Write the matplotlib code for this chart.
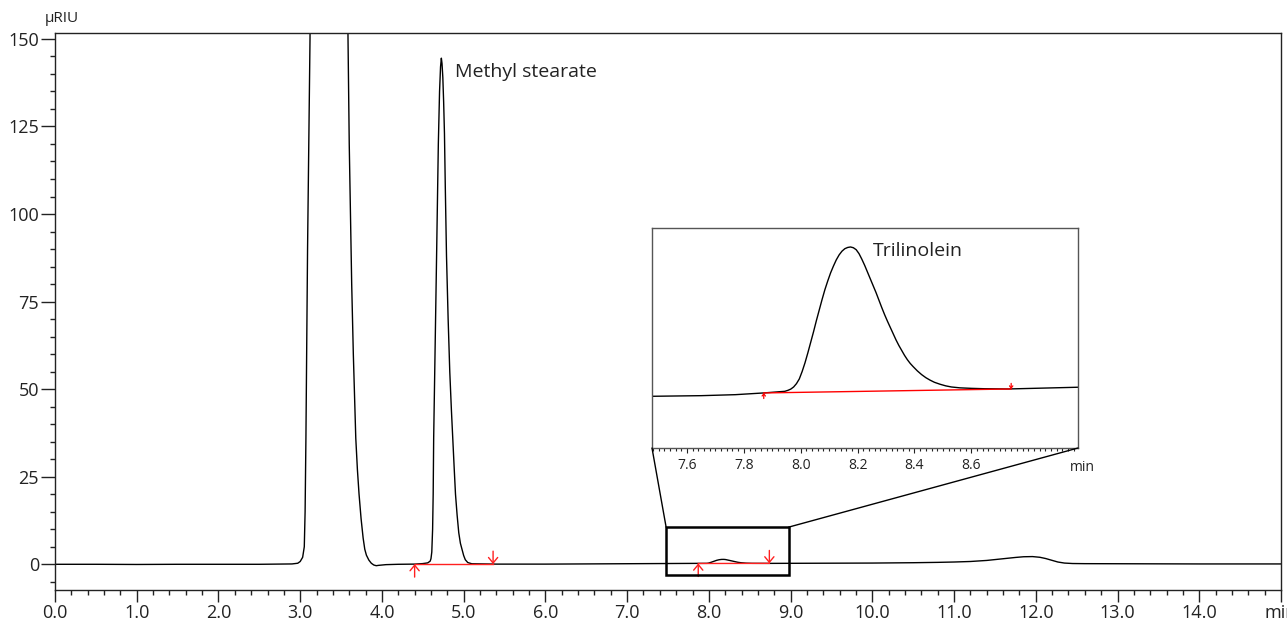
import matplotlib
matplotlib.use("Agg")
import matplotlib.pyplot as plt
from matplotlib.patches import Rectangle, ConnectionPatch
from matplotlib.ticker import MultipleLocator, FixedLocator

plt.rcParams['font.family'] = ['Open Sans', 'DejaVu Sans']

# ---------------- data ----------------
time_min = [0.00, 0.50, 1.00, 1.50, 2.00, 2.50, 2.90, 2.97, 3.00, 3.03, 3.05, 3.06,
            3.07, 3.09, 3.12, 3.15, 3.30, 3.45, 3.55, 3.585, 3.60, 3.615, 3.63, 3.65,
            3.68, 3.70, 3.72, 3.745, 3.77, 3.79, 3.81, 3.84, 3.87, 3.90, 3.93, 3.96,
            4.05, 4.20, 4.40, 4.50, 4.56, 4.59, 4.60, 4.61, 4.62, 4.627, 4.633, 4.65,
            4.67, 4.69, 4.705, 4.717, 4.727, 4.735, 4.745, 4.755, 4.765, 4.775, 4.79,
            4.81, 4.83, 4.85, 4.866, 4.885, 4.90, 4.92, 4.94, 4.96, 4.98, 5.00, 5.02,
            5.05, 5.10, 5.40, 6.00, 6.50, 7.00,
            7.477, 7.65, 7.77, 7.87, 7.944, 7.955, 7.965, 7.975, 7.985, 7.995, 8.005,
            8.015, 8.025, 8.035, 8.045, 8.055, 8.065, 8.075, 8.085, 8.095, 8.105,
            8.115, 8.125, 8.135, 8.145, 8.155, 8.165, 8.175, 8.185, 8.195, 8.205,
            8.215, 8.225, 8.235, 8.245, 8.255, 8.265, 8.275, 8.285, 8.295, 8.305,
            8.315, 8.325, 8.335, 8.345, 8.355, 8.365, 8.375, 8.385, 8.395, 8.41,
            8.425, 8.44, 8.455, 8.47, 8.49, 8.51, 8.53, 8.56, 8.60, 8.645, 8.73, 8.975,
            9.50, 10.00, 10.50, 10.80, 11.00, 11.20, 11.40, 11.60, 11.75, 11.85, 11.96,
            12.05, 12.12, 12.20, 12.27, 12.35, 12.45, 12.60, 13.00, 13.50, 14.00,
            14.50, 15.00]
signal_uriu = [0.0, 0.0, -0.05, 0.0, 0.0, 0.0, 0.1, 0.3, 0.8, 2.0, 5.0, 15,
               36, 90, 150, 260, 600, 600, 260, 150, 120, 100, 80, 60,
               36, 27, 20, 13, 7.5, 4.3, 2.6, 1.2, 0.3, -0.2, -0.4, -0.3,
               -0.1, 0.0, 0.05, 0.2, 0.4, 0.9, 1.6, 3.5, 10, 20, 36, 60,
               90, 120, 135, 142, 144.5, 143, 139, 132, 123, 108, 88,
               70, 55, 44, 36, 27, 20, 14, 9, 6, 4.3, 2.5, 1.3,
               0.5, 0.15, 0.05, 0.05, 0.1, 0.15,
               0.200, 0.205, 0.213, 0.227, 0.240, 0.248, 0.258, 0.275, 0.302, 0.340, 0.400,
               0.470, 0.550, 0.635, 0.720, 0.810, 0.895, 0.980, 1.060, 1.130, 1.195,
               1.250, 1.300, 1.340, 1.370, 1.390, 1.400, 1.404, 1.398, 1.382, 1.350,
               1.305, 1.255, 1.200, 1.145, 1.090, 1.035, 0.975, 0.915, 0.858, 0.805,
               0.755, 0.705, 0.655, 0.610, 0.570, 0.530, 0.495, 0.465, 0.440, 0.405,
               0.375, 0.350, 0.330, 0.313, 0.297, 0.284, 0.275, 0.268, 0.264, 0.261, 0.259, 0.273,
               0.30, 0.35, 0.45, 0.55, 0.65, 0.80, 1.10, 1.60, 1.95, 2.15, 2.20,
               2.00, 1.65, 1.10, 0.65, 0.35, 0.22, 0.18, 0.15, 0.10, 0.10,
               0.10, 0.10]

# integration baselines: (start time, start value, end time, end value)
base_start_t = [4.40, 7.87]
base_start_v = [0.05, 0.227]
base_end_t = [5.36, 8.74]
base_end_v = [0.05, 0.259]

peak_names = ["Methyl stearate", "Trilinolein"]

x_major = [0, 1, 2, 3, 4, 5, 6, 7, 8, 9, 10, 11, 12, 13, 14, 15]
x_labels = ["0.0", "1.0", "2.0", "3.0", "4.0", "5.0", "6.0", "7.0", "8.0", "9.0",
            "10.0", "11.0", "12.0", "13.0", "14.0", "min"]
y_major = [0, 25, 50, 75, 100, 125, 150]

inset_xticks = [7.6, 7.8, 8.0, 8.2, 8.4, 8.6]
inset_xlim = (7.477, 8.975)
inset_ylim = (-0.217, 1.557)
zoom_box_y = (-3.06, 10.6)

# ---------------- figure ----------------
W, H = 1287, 621
fig = plt.figure(figsize=(W / 100, H / 100), dpi=100)
ax = fig.add_axes([55 / W, 1 - 590 / H, 1226 / W, 556.7 / H])

ax.plot(time_min, signal_uriu, color='black', lw=1.0)
ax.set_xlim(0, 15)
ax.set_ylim(-7.34, 151.6)

ax.xaxis.set_major_locator(FixedLocator(x_major))
ax.set_xticklabels(x_labels)
ax.xaxis.set_minor_locator(MultipleLocator(0.2))
ax.yaxis.set_major_locator(FixedLocator(y_major))
ax.yaxis.set_minor_locator(MultipleLocator(5))
ax.tick_params(axis='x', which='major', direction='out', length=8.4, width=1,
               labelsize=13, pad=2, colors='#222222')
ax.tick_params(axis='y', which='major', direction='out', length=10, width=1,
               labelsize=13, pad=1.5, colors='#222222')
ax.tick_params(which='minor', direction='out', length=3.6, width=1, colors='#222222')
for s in ax.spines.values():
    s.set_linewidth(1.0)
    s.set_color('#222222')

fig.text(45 / W, 1 - 18 / H, "µRIU", fontsize=11, va='center', ha='left', color='#222222')

# baselines + arrows in main axes
arrow_len = 3.7
for t0, v0, t1, v1 in zip(base_start_t, base_start_v, base_end_t, base_end_v):
    ax.plot([t0, t1], [v0, v1], color='#ff2020', lw=1.0)
    ax.annotate("", xy=(t0, v0), xytext=(t0, v0 - arrow_len),
                arrowprops=dict(arrowstyle='->,head_length=0.4,head_width=0.33',
                                color='#ff2020', lw=1.0, shrinkA=0, shrinkB=0))
    ax.annotate("", xy=(t1, v1), xytext=(t1, v1 + arrow_len),
                arrowprops=dict(arrowstyle='->,head_length=0.4,head_width=0.33',
                                color='#ff2020', lw=1.0, shrinkA=0, shrinkB=0))

ax.text(4.894, 140.6, peak_names[0], fontsize=14, va='center', ha='left', color='#222222')

# zoom box
ax.add_patch(Rectangle((inset_xlim[0], zoom_box_y[0]), inset_xlim[1] - inset_xlim[0],
                       zoom_box_y[1] - zoom_box_y[0], fill=False, lw=1.8,
                       ec='black', zorder=5))

# ---------------- inset ----------------
axins = fig.add_axes([652 / W, 1 - 448 / H, 426 / W, 220 / H])
axins.plot(time_min, signal_uriu, color='black', lw=1.0)
axins.set_xlim(*inset_xlim)
axins.set_ylim(*inset_ylim)
axins.set_yticks([])
axins.xaxis.set_major_locator(FixedLocator(inset_xticks))
axins.xaxis.set_minor_locator(MultipleLocator(0.02))
axins.tick_params(axis='x', which='major', direction='out', length=3.5, width=0.8,
                  labelsize=10, pad=3.5, colors='#222222')
axins.tick_params(axis='x', which='minor', direction='out', length=2.2, width=0.8,
                  colors='#222222')
for s in axins.spines.values():
    s.set_linewidth(1.0)
    s.set_color('#555555')
axins.text(1.01, -0.055, "min", transform=axins.transAxes, fontsize=10,
           ha='center', va='top', color='#222222')

t0, v0, t1, v1 = base_start_t[1], base_start_v[1], base_end_t[1], base_end_v[1]
axins.plot([t0, t1], [v0, v1], color='red', lw=1.0)
small = 0.045
axins.annotate("", xy=(t0, v0), xytext=(t0, v0 - small),
               arrowprops=dict(arrowstyle='->,head_length=0.15,head_width=0.12',
                               color='red', lw=0.9, shrinkA=0, shrinkB=0))
axins.annotate("", xy=(t1, v1), xytext=(t1, v1 + small),
               arrowprops=dict(arrowstyle='->,head_length=0.15,head_width=0.12',
                               color='red', lw=0.9, shrinkA=0, shrinkB=0))
axins.text(8.252, 1.372, peak_names[1], fontsize=14, va='center', ha='left', color='#222222')

# connectors
for xa, xb in [(inset_xlim[0], 0), (inset_xlim[1], 1)]:
    con = ConnectionPatch(xyA=(xa, zoom_box_y[1]), coordsA=ax.transData,
                          xyB=(xb, 0), coordsB=axins.transAxes,
                          color='black', lw=1.0)
    fig.add_artist(con)

fig.savefig("out.png", dpi=100)
